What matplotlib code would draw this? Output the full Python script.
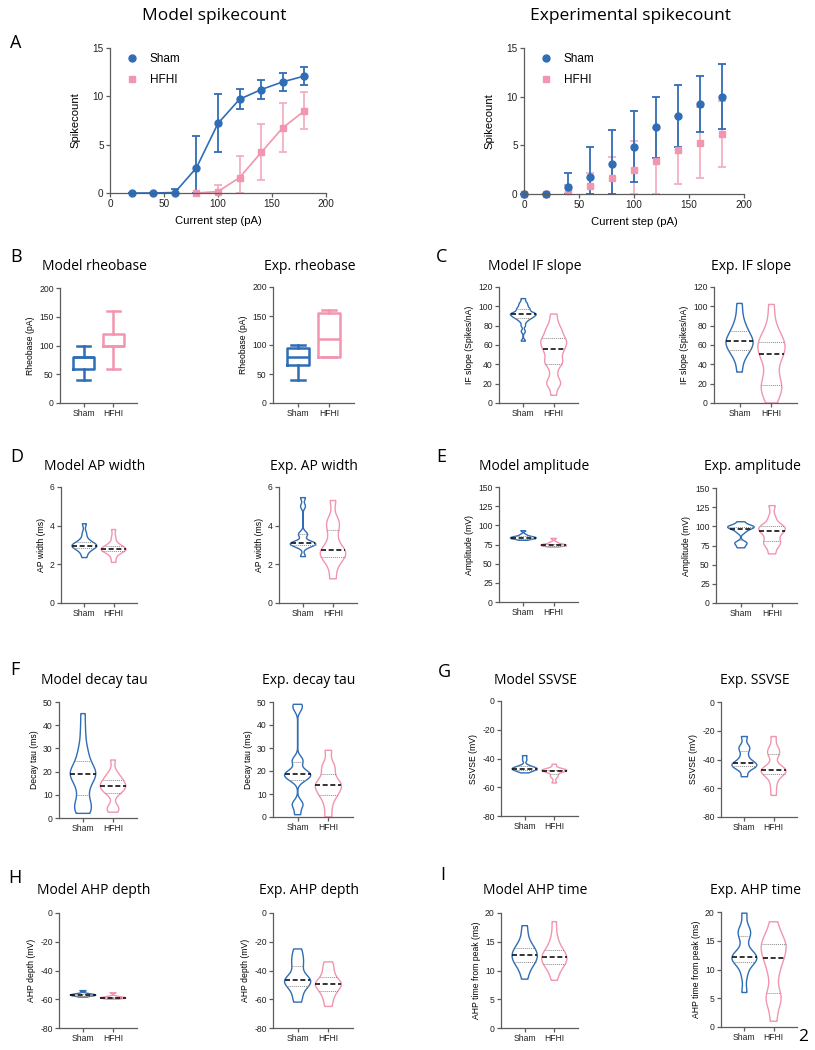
import numpy as np
import matplotlib
matplotlib.use('Agg')
import matplotlib.pyplot as plt
from matplotlib import mlab
from matplotlib.lines import Line2D

plt.rcParams['font.family'] = ['Liberation Sans', 'DejaVu Sans']
plt.rcParams['axes.unicode_minus'] = False

W, H = 815, 1050
BLUE = '#2f6db5'
PINK = '#f295ae'
PINK_LIGHT = '#f4b0c1'
AXC = '#5c5c5c'
TITLE_FONT = ['Open Sans', 'DejaVu Sans']

groups = ['Sham', 'HFHI']

# ---------------- A: spike counts ----------------
model_x_sham = [20, 40, 60, 80, 100, 120, 140, 160, 180]
model_y_sham = [0, 0, 0.05, 2.6, 7.2, 9.7, 10.7, 11.5, 12.1]
model_e_sham = [0, 0, 0.35, 3.3, 3.0, 1.05, 0.95, 0.9, 0.9]
model_x_hfhi = [80, 100, 120, 140, 160, 180]
model_y_hfhi = [0, 0.15, 1.6, 4.2, 6.75, 8.5]
model_e_hfhi = [0, 0.65, 2.2, 2.9, 2.55, 1.9]

exp_x = [0, 20, 40, 60, 80, 100, 120, 140, 160, 180]
exp_y_sham = [0, 0, 0.75, 1.75, 3.1, 4.85, 6.85, 8.0, 9.25, 10.0]
exp_e_sham = [0, 0, 1.45, 3.05, 3.45, 3.65, 3.1, 3.2, 2.85, 3.35]
exp_y_hfhi = [0, 0, 0.35, 0.8, 1.6, 2.5, 3.4, 4.5, 5.25, 6.2]
exp_e_hfhi = [0, 0, 0.55, 1.4, 2.25, 2.9, 3.4, 3.5, 3.65, 3.4]

# ---------------- B: rheobase box plots (whislo, q1, med, q3, whishi) ----------------
rheo_model_sham = [40, 60, 80, 80, 100]
rheo_model_hfhi = [60, 100, 100, 120, 160]
rheo_exp_sham = [40, 65, 80, 95, 100]
rheo_exp_hfhi = [80, 80, 110, 155, 160]

# ---------------- C: IF slope ----------------
if_model_sham = [64, 74, 80, 84, 86, 88, 88, 89, 90, 91, 92, 92, 92, 93, 94, 96, 97, 98, 100, 102, 104, 108]
if_model_hfhi = [8, 18, 20, 24, 32, 40, 41, 44, 48, 52, 55, 57, 60, 62, 64, 66, 68, 72, 75, 78, 84, 92]
if_exp_sham = [32, 45, 52, 54, 58, 62, 64, 64, 66, 72, 76, 80, 90, 103]
if_exp_hfhi = [0, 12, 16, 18, 22, 40, 50, 52, 56, 62, 64, 66, 80, 102]

# ---------------- D: AP width ----------------
apw_model_sham = [2.35, 2.6, 2.75, 2.85, 2.9, 2.95, 2.97, 3.0, 3.05, 3.15, 3.3, 3.6, 4.1]
apw_model_hfhi = [2.1, 2.4, 2.6, 2.68, 2.72, 2.76, 2.78, 2.82, 2.9, 2.95, 3.1, 3.4, 3.8]
apw_exp_sham = [2.4, 2.9, 3.0, 3.05, 3.08, 3.1, 3.12, 3.5, 3.6, 5.0, 5.45]
apw_exp_hfhi = [1.25, 1.9, 2.3, 2.4, 2.6, 2.7, 2.75, 3.2, 3.7, 4.1, 4.3, 5.3]

# ---------------- E: amplitude ----------------
amp_model_sham = [80.5, 82, 82.5, 83, 83.5, 84, 84.5, 85, 86, 88, 93]
amp_model_hfhi = [71.5, 73, 73.5, 74, 74.5, 75, 76, 78, 83]
amp_exp_sham = [72, 77, 79, 92, 96, 98, 99, 100, 101, 106]
amp_exp_hfhi = [64, 74, 78, 81, 88, 93, 95, 97, 100, 102, 112, 127]

# ---------------- F: decay tau ----------------
tau_model_sham = [2, 3.5, 4.5, 5, 8, 12, 14, 17, 18, 19, 19, 20, 21, 23, 26, 28, 32, 38, 45]
tau_model_hfhi = [2.5, 4, 5, 10, 11.5, 12, 13, 14, 14, 15, 16, 17, 18, 20, 25]
tau_exp_sham = [1, 5, 6, 16, 17, 18, 18.5, 19, 20, 24, 25, 47, 49]
tau_exp_hfhi = [0, 5, 9, 10, 12, 14, 14, 15, 18, 21, 23, 29]

# ---------------- G: SSVSE ----------------
ssvse_model_sham = [-50, -48.5, -48, -47.5, -47.5, -47, -46.5, -46, -45, -41, -38]
ssvse_model_hfhi = [-57, -53, -51.5, -49, -48.5, -48.5, -48, -48, -47.5, -44]
ssvse_exp_sham = [-52, -46, -45, -44, -43, -42, -38, -33, -31, -24]
ssvse_exp_hfhi = [-65, -58, -52, -49.5, -48, -47.5, -47, -46, -37, -35, -32, -24]

# ---------------- H: AHP depth ----------------
ahpd_model_sham = [-58.5, -57.8, -57.5, -57.2, -57, -56.8, -56.5, -56, -54]
ahpd_model_hfhi = [-60, -59.5, -59.2, -59, -58.8, -58.6, -58, -55.5]
ahpd_exp_sham = [-62, -57, -52, -50, -48, -47, -46, -44, -38, -34, -30, -25]
ahpd_exp_hfhi = [-65, -60, -56, -54, -51, -50, -49, -48, -45, -42, -38, -34]

# ---------------- I: AHP time ----------------
ahpt_model_sham = [8.5, 10, 11, 11.5, 11.8, 12.3, 12.7, 13, 13.5, 14, 14.5, 16, 17.8]
ahpt_model_hfhi = [8.3, 9.8, 10.8, 11.2, 11.6, 12, 12.3, 12.6, 13, 13.6, 14.5, 16, 18.5]
ahpt_exp_sham = [6, 9, 11, 11.5, 12, 12, 12.5, 13, 15.5, 16.5, 17, 19.8]
ahpt_exp_hfhi = [1, 4, 5, 6, 9, 10.6, 12, 12.8, 13.5, 14.5, 15, 16, 18.3]


fig = plt.figure(figsize=(W / 100, H / 100), dpi=100)


def add_ax(l, t, r, b):
    # pixel box -> figure fraction
    return fig.add_axes([l / W, 1 - b / H, (r - l) / W, (b - t) / H])


def fig_text(x, y, s, **kw):
    fig.text(x / W, 1 - y / H, s, **kw)


def style(ax, fs):
    for s in ['top', 'right']:
        ax.spines[s].set_visible(False)
    for s in ['left', 'bottom']:
        ax.spines[s].set_color(AXC)
        ax.spines[s].set_linewidth(0.9)
    ax.tick_params(colors=AXC, labelcolor='#222222', labelsize=fs, length=3, width=0.9, pad=1.5)


def title_over(ax, y, text, fs=10):
    box = ax.get_position()
    cx = (box.x0 + box.x1) / 2 * W - 4
    fig_text(cx, y, text, ha='center', va='center', fontsize=fs, family=TITLE_FONT)


def letter(x, y, s):
    fig_text(x, y, s, ha='left', va='center', fontsize=13, family=TITLE_FONT)


def spike_panel(ax, xs, ys, es, xh, yh, eh, line):
    fmt_h = 's-' if line else 's'
    fmt_s = 'o-' if line else 'o'
    lo_h = np.minimum(eh, yh)
    lo_s = np.minimum(es, ys)
    c1 = ax.errorbar(xh, yh, yerr=[lo_h, eh], fmt=fmt_h, color=PINK, ecolor=PINK_LIGHT,
                     ms=5, lw=1.2, elinewidth=1.3, capsize=3, capthick=1.3)
    c2 = ax.errorbar(xs, ys, yerr=[lo_s, es], fmt=fmt_s, color=BLUE, ecolor=BLUE,
                     ms=5, lw=1.2, elinewidth=1.3, capsize=3, capthick=1.3)
    for c in [c1, c2]:
        for art in c.get_children():
            art.set_clip_on(False)
    ax.set_xlim(0, 200)
    ax.set_ylim(0, 15)
    ax.set_xticks([0, 50, 100, 150, 200])
    ax.set_yticks([0, 5, 10, 15])
    style(ax, 7.2)
    ax.set_xlabel('Current step (pA)', fontsize=8.1, labelpad=5)
    ax.set_ylabel('Spikecount', fontsize=8.1, labelpad=9)
    handles = [Line2D([], [], marker='o', ls='none', color=BLUE, ms=5),
               Line2D([], [], marker='s', ls='none', color=PINK, ms=5)]
    ax.legend(handles, groups, loc='upper left', bbox_to_anchor=(0.02, 1.04), frameon=False,
              fontsize=8.5, handletextpad=0.9, labelspacing=0.75, handlelength=1.2)


def cat_axis(ax, ylim, yticks, ylabel):
    ax.set_xlim(-0.8, 1.8)
    ax.set_ylim(*ylim)
    ax.set_yticks(yticks)
    ax.set_xticks([0, 1])
    ax.set_xticklabels(groups)
    style(ax, 6.2)
    ax.set_ylabel(ylabel, fontsize=6.2, labelpad=3)


def box_panel(ax, sham, hfhi):
    for i, (st, col) in enumerate([(sham, BLUE), (hfhi, PINK)]):
        stats = [dict(whislo=st[0], q1=st[1], med=st[2], q3=st[3], whishi=st[4], fliers=[])]
        props = dict(color=col, linewidth=1.8)
        ax.bxp(stats, positions=[i], widths=0.7, capwidths=0.43, showfliers=False,
               boxprops=props, whiskerprops=props, capprops=props, medianprops=props,
               manage_ticks=False)
    cat_axis(ax, (0, 200), [0, 50, 100, 150, 200], 'Rheobase (pA)')


def violin_panel(ax, sham, hfhi, ylim, yticks, ylabel, bw=(0.35, 0.35), width=0.85):
    for i, (vals, col) in enumerate([(sham, BLUE), (hfhi, PINK)]):
        vals = np.asarray(vals, float)
        vp = ax.violinplot(vals, positions=[i], widths=width, showextrema=False,
                           bw_method=bw[i], points=200)
        for b in vp['bodies']:
            b.set_facecolor('none')
            b.set_edgecolor(col)
            b.set_linewidth(1.0)
            b.set_alpha(1)
        kde = mlab.GaussianKDE(vals, bw[i])
        peak = kde.evaluate(np.linspace(vals.min(), vals.max(), 200)).max()
        q1, med, q3 = np.percentile(vals, [25, 50, 75])
        for q in [q1, q3]:
            hw = width / 2 * kde.evaluate([q])[0] / peak
            ax.plot([i - hw, i + hw], [q, q], color='#8a8a8a', lw=0.7, ls=(0, (1, 1)))
        hw = width / 2 * kde.evaluate([med])[0] / peak
        ax.plot([i - hw, i + hw], [med, med], color='#111111', lw=1.2, ls=(0, (3, 1.6)))
    cat_axis(ax, ylim, yticks, ylabel)


# ---------------- row A ----------------
axA1 = add_ax(110, 48, 326, 193)
spike_panel(axA1, model_x_sham, model_y_sham, model_e_sham,
            model_x_hfhi, model_y_hfhi, model_e_hfhi, True)
axA2 = add_ax(524, 48, 744, 194)
spike_panel(axA2, exp_x, exp_y_sham, exp_e_sham, exp_x, exp_y_hfhi, exp_e_hfhi, False)
title_over(axA1, 16, 'Model spikecount', fs=12.5)
title_over(axA2, 16, 'Experimental spikecount', fs=12.5)
letter(10, 43, 'A')

# ---------------- row B / C ----------------
axB1 = add_ax(60, 288, 137, 403)
box_panel(axB1, rheo_model_sham, rheo_model_hfhi)
axB2 = add_ax(273, 287, 354, 403)
box_panel(axB2, rheo_exp_sham, rheo_exp_hfhi)
axC1 = add_ax(499, 287, 578, 403)
violin_panel(axC1, if_model_sham, if_model_hfhi, (0, 120), range(0, 121, 20),
             'IF slope (Spikes/nA)', bw=(0.18, 0.2))
axC2 = add_ax(714, 287, 797, 403)
violin_panel(axC2, if_exp_sham, if_exp_hfhi, (0, 120), range(0, 121, 20),
             'IF slope (Spikes/nA)', bw=(0.4, 0.4))
for ax, t in [(axB1, 'Model rheobase'), (axB2, 'Exp. rheobase'),
              (axC1, 'Model IF slope'), (axC2, 'Exp. IF slope')]:
    title_over(ax, 266, t)
letter(10, 257, 'B')
letter(436, 257, 'C')

# ---------------- row D / E ----------------
axD1 = add_ax(61, 487, 137, 603)
violin_panel(axD1, apw_model_sham, apw_model_hfhi, (0, 6), [0, 2, 4, 6], 'AP width (ms)')
axD2 = add_ax(279, 487, 357, 603)
violin_panel(axD2, apw_exp_sham, apw_exp_hfhi, (0, 6), [0, 2, 4, 6], 'AP width (ms)', bw=(0.15, 0.3))
axE1 = add_ax(499, 487, 578, 602)
violin_panel(axE1, amp_model_sham, amp_model_hfhi, (0, 150), range(0, 151, 25), 'Amplitude (mV)')
axE2 = add_ax(716, 488, 797, 603)
violin_panel(axE2, amp_exp_sham, amp_exp_hfhi, (0, 150), range(0, 151, 25), 'Amplitude (mV)', bw=(0.22, 0.3))
for ax, t in [(axD1, 'Model AP width'), (axD2, 'Exp. AP width'),
              (axE1, 'Model amplitude'), (axE2, 'Exp. amplitude')]:
    title_over(ax, 466, t)
letter(10, 457, 'D')
letter(436, 457, 'E')

# ---------------- row F / G ----------------
axF1 = add_ax(59, 702, 137, 818)
violin_panel(axF1, tau_model_sham, tau_model_hfhi, (0, 50), range(0, 51, 10), 'Decay tau (ms)', bw=(0.3, 0.3))
axF2 = add_ax(273, 702, 353, 817)
violin_panel(axF2, tau_exp_sham, tau_exp_hfhi, (0, 50), range(0, 51, 10), 'Decay tau (ms)', bw=(0.13, 0.3))
axG1 = add_ax(501, 701, 578, 816)
violin_panel(axG1, ssvse_model_sham, ssvse_model_hfhi, (-80, 0), range(-80, 1, 20), 'SSVSE (mV)')
axG2 = add_ax(721, 702, 797, 817)
violin_panel(axG2, ssvse_exp_sham, ssvse_exp_hfhi, (-80, 0), range(-80, 1, 20), 'SSVSE (mV)', bw=(0.3, 0.3))
for ax, t in [(axF1, 'Model decay tau'), (axF2, 'Exp. decay tau'),
              (axG1, 'Model SSVSE'), (axG2, 'Exp. SSVSE')]:
    title_over(ax, 680, t)
letter(10, 670, 'F')
letter(438, 672, 'G')

# ---------------- row H / I ----------------
axH1 = add_ax(59, 913, 137, 1028)
violin_panel(axH1, ahpd_model_sham, ahpd_model_hfhi, (-80, 0), range(-80, 1, 20), 'AHP depth (mV)')
axH2 = add_ax(273, 913, 353, 1028)
violin_panel(axH2, ahpd_exp_sham, ahpd_exp_hfhi, (-80, 0), range(-80, 1, 20), 'AHP depth (mV)')
axI1 = add_ax(501, 913, 578, 1028)
violin_panel(axI1, ahpt_model_sham, ahpt_model_hfhi, (0, 20), range(0, 21, 5),
             'AHP time from peak (ms)', bw=(0.45, 0.45))
axI2 = add_ax(721, 912, 797, 1027)
violin_panel(axI2, ahpt_exp_sham, ahpt_exp_hfhi, (0, 20), range(0, 21, 5),
             'AHP time from peak (ms)', bw=(0.3, 0.3))
for ax, t in [(axH1, 'Model AHP depth'), (axH2, 'Exp. AHP depth'),
              (axI1, 'Model AHP time'), (axI2, 'Exp. AHP time')]:
    title_over(ax, 891, t)
letter(8, 878, 'H')
letter(440, 875, 'I')

# page number
fig_text(803, 1037, '2', ha='center', va='center', fontsize=12.5, family=TITLE_FONT)

fig.savefig('out.png', dpi=100)
